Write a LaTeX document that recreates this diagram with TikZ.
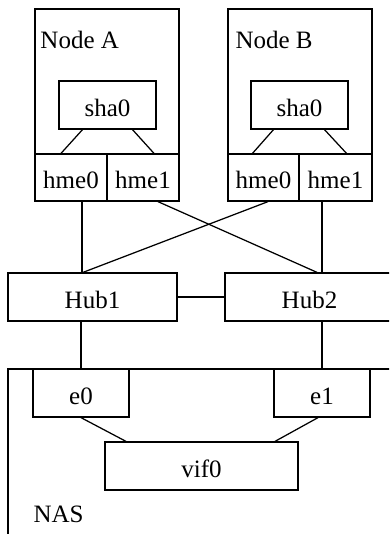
\documentclass[tikz,border=0pt]{standalone}
\usepackage{fontspec}
\setmainfont{Liberation Serif}
\usetikzlibrary{calc}
\newcommand{\pxu}{0.4pt}
\tikzset{
box/.style 2 args={draw, line width=0.5pt, inner sep=0pt, text height=9pt, text depth=0pt,
  minimum width=#1*\pxu, minimum height=#2*\pxu},
title/.style={anchor=base west, inner sep=0pt},
link/.style={line width=0.5pt}
}
\begin{document}
\begin{tikzpicture}[x=\pxu, y=-\pxu]
    \useasboundingbox (0,0) rectangle (389,534);
    \clip (0,0) rectangle (389,534);

    % node A
    \node[box={144}{192}] (nodeA) at (107,105) {};
    \node[title] (labelA) at (40,48) {Node A};
    \node[box={97}{48}] (shaA) at (107.5,105) {sha0};
    \node[box={72}{47}] (hme0A) at (71,177.5) {hme0};
    \node[box={72}{47}] (hme1A) at (143,177.5) {hme1};

    % node B
    \node[box={144}{192}] (nodeB) at (300,105) {};
    \node[title] (labelB) at (235,48) {Node B};
    \node[box={97}{48}] (shaB) at (299.5,105) {sha0};
    \node[box={71}{47}] (hme0B) at (263.5,177.5) {hme0};
    \node[box={73}{47}] (hme1B) at (335.5,177.5) {hme1};

    % hubs
    \node[box={169}{48}] (hub1) at (92.5,297) {Hub1};
    \node[box={169}{48}] (hub2) at (309.5,297) {Hub2};

    % NAS
    \node[box={392}{202}] (nas) at (204,470) {};
    \node[title] (labelNAS) at (33,522) {NAS};
    \node[box={96}{48}] (e0) at (81,393) {e0};
    \node[box={96}{48}] (e1) at (322,393) {e1};
    \node[box={193}{48}] (vif0) at (201.5,466) {vif0};

    \draw[link] ($(shaA.south)+(-25,0)$) -- ($(hme0A.north)+(-10,0)$);
    \draw[link] ($(shaA.south)+(25,0)$) -- ($(hme1A.north)+(11,0)$);
    \draw[link] ($(shaB.south)+(-26,0)$) -- ($(hme0B.north)+(-11,0)$);
    \draw[link] ($(shaB.south)+(25,0)$) -- ($(hme1B.north)+(11,0)$);

    \draw[link] ($(hme0A.south)+(11,0)$) coordinate (a0) -- (a0 |- hub1.north);
    \draw[link] ($(hme1B.south)+(-13.5,0)$) coordinate (b1) -- (b1 |- hub2.north);
    \draw[link] ($(hme1A.south)+(15,0)$) -- ($(hub2.north)+(7.5,0)$);
    \draw[link] ($(hme0B.south)+(4.5,0)$) -- ($(hub1.north)+(-9.5,0)$);
    \draw[link] (hub1) -- (hub2);

    \draw[link] (e0.north |- hub1.south) -- (e0.north);
    \draw[link] (e1.north |- hub2.south) -- (e1.north);
    \draw[link] (e0.south) -- ($(vif0.north)+(-75.5,0)$);
    \draw[link] ($(e1.south)+(-4,0)$) -- ($(vif0.north)+(73.5,0)$);
\end{tikzpicture}
\end{document}
